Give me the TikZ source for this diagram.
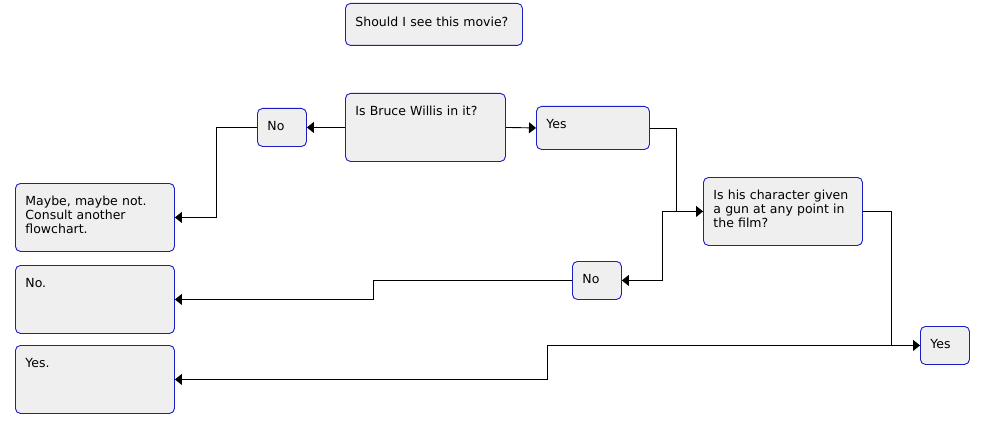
\documentclass[tikz,border=0pt]{standalone}
\usepackage{fontspec}
\setmainfont{DejaVu Sans}
\usepackage{xcolor}
\usetikzlibrary{arrows.meta, positioning}
\definecolor{boxblue}{RGB}{28,28,196}
\definecolor{boxfill}{RGB}{239,239,239}

\begin{document}
\begin{tikzpicture}[
    x=1pt, y=-1pt,
    every node/.style={color=black, font=\fontsize{12.5pt}{14pt}\selectfont},
    box/.style={draw=boxblue, fill=boxfill, rounded corners=5pt, line width=0.9pt,
                anchor=north west, align=left, inner xsep=10pt, inner ysep=0pt,
                text height=22pt},
    bigbox/.style={box, text width=139pt, text depth=46pt},
    smallbox/.style={box, text width=29pt, text depth=16pt},
    arrow/.style={-{Triangle[length=7pt, width=11pt]}, color=black, line width=0.9pt},
]
\useasboundingbox (0,0) rectangle (981,425);

% --- Title ---
\node[box, text width=157pt, text height=23pt, text depth=19pt] (title) at (345,3) {Should I see this movie?};

% --- First question ---
\node[bigbox, text width=140pt] (qbw) at (345,93) {Is Bruce Willis in it?};
\node[smallbox] (no1) at (257,108) {No};
\node[box, text width=93pt, text depth=21pt] (yes1) at (536,106) {Yes};

% --- Second question ---
\node[bigbox] (qgun) at (703,177) {Is his character given\\a gun at any point in\\the film?};
\node[smallbox] (no2) at (572,261) {No};
\node[smallbox] (yes2) at (920,326) {Yes};

% --- Answers ---
\node[bigbox] (maybe) at (15,183) {Maybe, maybe not.\\Consult another\\flowchart.};
\node[bigbox] (ansno) at (15,265) {No.};
\node[bigbox] (ansyes) at (15,345) {Yes.};

% --- Connectors ---
\draw[arrow] (qbw.west) -- (no1.east);
\draw[arrow] (qbw.east) -- (yes1.west);
\draw[arrow] (no1.west) -- ++(-40.5,0) |- (maybe.east);
\draw[arrow] (yes1.east) -- ++(27,0) |- (qgun.west);
\draw[arrow] (qgun.west) -- ++(-41,0) |- (no2.east);
\draw[arrow] (qgun.east) -- ++(29,0) |- (yes2.west);
\draw[arrow] (no2.west) -- ++(-199,0) |- (ansno.east);
\draw[arrow] (yes2.west) -- ++(-372.5,0) |- (ansyes.east);

\end{tikzpicture}
\end{document}
